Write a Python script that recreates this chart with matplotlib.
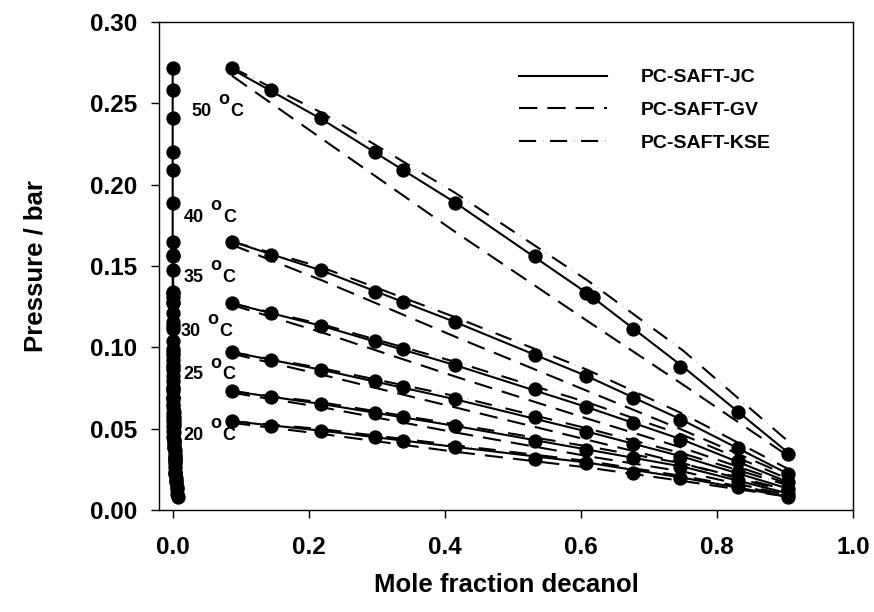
"""VLE of decanol mixtures: data vs three PC-SAFT variants."""

import matplotlib
matplotlib.use("Agg")
import matplotlib.pyplot as plt

plt.rcParams["font.family"] = ["Liberation Sans", "DejaVu Sans"]
plt.rcParams["font.weight"] = "bold"

temps = [20, 25, 30, 35, 40, 50]

# liquid-phase measurements (mole fraction decanol, pressure in bar)
x_liq = [0.087, 0.145, 0.218, 0.298, 0.338, 0.415, 0.533, 0.608, 0.677, 0.746, 0.831, 0.904]
x_liq_50 = [0.087, 0.145, 0.218, 0.298, 0.338, 0.415, 0.533, 0.608, 0.618, 0.677, 0.746, 0.831, 0.904]
p_liq = {
    20: [0.0545, 0.0516, 0.0486, 0.0449, 0.0424, 0.0387, 0.0314, 0.0290, 0.0229, 0.0197, 0.0140, 0.0080],
    25: [0.0730, 0.0695, 0.0650, 0.0596, 0.0570, 0.0516, 0.0424, 0.0369, 0.0320, 0.0265, 0.0180, 0.0100],
    30: [0.0970, 0.0920, 0.0860, 0.0790, 0.0756, 0.0680, 0.0570, 0.0480, 0.0406, 0.0326, 0.0230, 0.0130],
    35: [0.1270, 0.1210, 0.1130, 0.1040, 0.0990, 0.0890, 0.0740, 0.0630, 0.0535, 0.0430, 0.0300, 0.0170],
    40: [0.1650, 0.1570, 0.1475, 0.1340, 0.1280, 0.1155, 0.0950, 0.0820, 0.0690, 0.0553, 0.0380, 0.0220],
    50: [0.2720, 0.2580, 0.2410, 0.2200, 0.2090, 0.1890, 0.1560, 0.1334, 0.1310, 0.1110, 0.0880, 0.0600, 0.0345],
}

# vapour-phase mole fraction decanol (near zero)
x_vap = {
    20: [0.000, 0.001, 0.001, 0.001, 0.002, 0.002, 0.003, 0.003, 0.004, 0.005, 0.007, 0.008],
    25: [0.000, 0.000, 0.001, 0.001, 0.001, 0.002, 0.002, 0.003, 0.003, 0.004, 0.005, 0.007],
    30: [0.000, 0.000, 0.000, 0.001, 0.001, 0.001, 0.002, 0.002, 0.002, 0.003, 0.004, 0.006],
    35: [0.000, 0.000, 0.000, 0.000, 0.001, 0.001, 0.001, 0.001, 0.002, 0.002, 0.003, 0.005],
    40: [0.000, 0.000, 0.000, 0.000, 0.000, 0.001, 0.001, 0.001, 0.001, 0.002, 0.002, 0.004],
    50: [0.000, 0.000, 0.000, 0.000, 0.000, 0.000, 0.000, 0.001, 0.001, 0.001, 0.001, 0.002, 0.003],
}

# model curves on a coarse grid
x_model = [0.087, 0.22, 0.415, 0.61, 0.75, 0.905]
p_jc = {
    20: [0.0545, 0.0486, 0.0387, 0.0290, 0.0197, 0.0080],
    25: [0.0730, 0.0650, 0.0516, 0.0370, 0.0265, 0.0100],
    30: [0.0970, 0.0860, 0.0680, 0.0480, 0.0326, 0.0130],
    35: [0.1270, 0.1130, 0.0890, 0.0630, 0.0430, 0.0170],
    40: [0.1650, 0.1470, 0.1155, 0.0820, 0.0550, 0.0220],
    50: [0.2710, 0.2400, 0.1890, 0.1330, 0.0880, 0.0350],
}
p_gv = {
    20: [0.0535, 0.0466, 0.0357, 0.0260, 0.0177, 0.0080],
    25: [0.0720, 0.0630, 0.0476, 0.0330, 0.0235, 0.0090],
    30: [0.0960, 0.0830, 0.0630, 0.0430, 0.0286, 0.0120],
    35: [0.1260, 0.1090, 0.0820, 0.0560, 0.0380, 0.0160],
    40: [0.1630, 0.1410, 0.1065, 0.0730, 0.0490, 0.0210],
    50: [0.2670, 0.2280, 0.1710, 0.1160, 0.0770, 0.0330],
}
p_kse = {
    20: [0.0545, 0.0496, 0.0397, 0.0300, 0.0207, 0.0090],
    25: [0.0730, 0.0660, 0.0526, 0.0390, 0.0285, 0.0110],
    30: [0.0970, 0.0870, 0.0700, 0.0500, 0.0346, 0.0150],
    35: [0.1270, 0.1140, 0.0910, 0.0660, 0.0460, 0.0190],
    40: [0.1650, 0.1490, 0.1185, 0.0860, 0.0590, 0.0250],
    50: [0.2720, 0.2440, 0.1950, 0.1410, 0.0980, 0.0420],
}

label_pos = {50: (0.028, 0.245), 40: (0.017, 0.180), 35: (0.016, 0.143),
             30: (0.012, 0.1095), 25: (0.016, 0.083), 20: (0.016, 0.046)}

fig = plt.figure(figsize=(8.74, 6.12), dpi=100)
ax = fig.add_axes([0.182, 0.167, 0.794, 0.797])

lw = 1.5
gv_dash = (8.8, 4.8)
kse_dash = (8.2, 3.3, 0.1, 3.3)

for T in temps:
    xl = x_liq_50 if T == 50 else x_liq
    ax.plot(x_model, p_jc[T], color="black", lw=lw, zorder=2)
    ax.plot(x_model, p_gv[T], color="black", lw=lw, dashes=gv_dash, zorder=2)
    ax.plot(x_model, p_kse[T], color="black", lw=lw, dashes=kse_dash, zorder=2)
    ax.plot(x_vap[T], p_liq[T], color="black", lw=lw, zorder=2)
    ax.plot(xl, p_liq[T], "o", color="black", ms=9.3, zorder=3)
    ax.plot(x_vap[T], p_liq[T], "o", color="black", ms=9.3, zorder=3)
    lx, ly = label_pos[T]
    ax.text(lx, ly, f"{T}", fontsize=13, fontweight="bold", ha="left", va="center")
    ax.annotate("o", (lx, ly), xytext=(19.0, 8.5), textcoords="offset points",
                fontsize=13, fontweight="bold", ha="left", va="center")
    ax.annotate("C", (lx, ly), xytext=(27.8, 0), textcoords="offset points",
                fontsize=13, fontweight="bold", ha="left", va="center")

# legend handles
h1, = ax.plot([], [], color="black", lw=lw)
h2, = ax.plot([], [], color="black", lw=lw, dashes=gv_dash)
h3, = ax.plot([], [], color="black", lw=lw, dashes=kse_dash)
ax.legend([h1, h2, h3], ["PC-SAFT-JC", "PC-SAFT-GV", "PC-SAFT-KSE"],
          loc="upper left", bbox_to_anchor=(0.4935, 0.94), frameon=False,
          fontsize=14, handlelength=4.5, handletextpad=1.75, labelspacing=0.77)

ax.set_xlim(-0.02, 1.0)
ax.set_ylim(0, 0.30)
ax.set_xticks([0.0, 0.2, 0.4, 0.6, 0.8, 1.0])
ax.set_xticklabels(["0.0", "0.2", "0.4", "0.6", "0.8", "1.0"])
ax.set_yticks([0.0, 0.05, 0.10, 0.15, 0.20, 0.25, 0.30])
ax.set_yticklabels(["0.00", "0.05", "0.10", "0.15", "0.20", "0.25", "0.30"])
ax.tick_params(direction="out", length=6, width=1, labelsize=17.5)
ax.tick_params(axis="x", pad=13)
ax.tick_params(axis="y", pad=10)
for s in ax.spines.values():
    s.set_linewidth(1)

ax.set_xlabel("Mole fraction decanol", fontsize=18.5, fontweight="bold", labelpad=10)
ax.set_ylabel("Pressure / bar", fontsize=18.5, fontweight="bold", labelpad=30)

fig.savefig("out.png", dpi=100)
